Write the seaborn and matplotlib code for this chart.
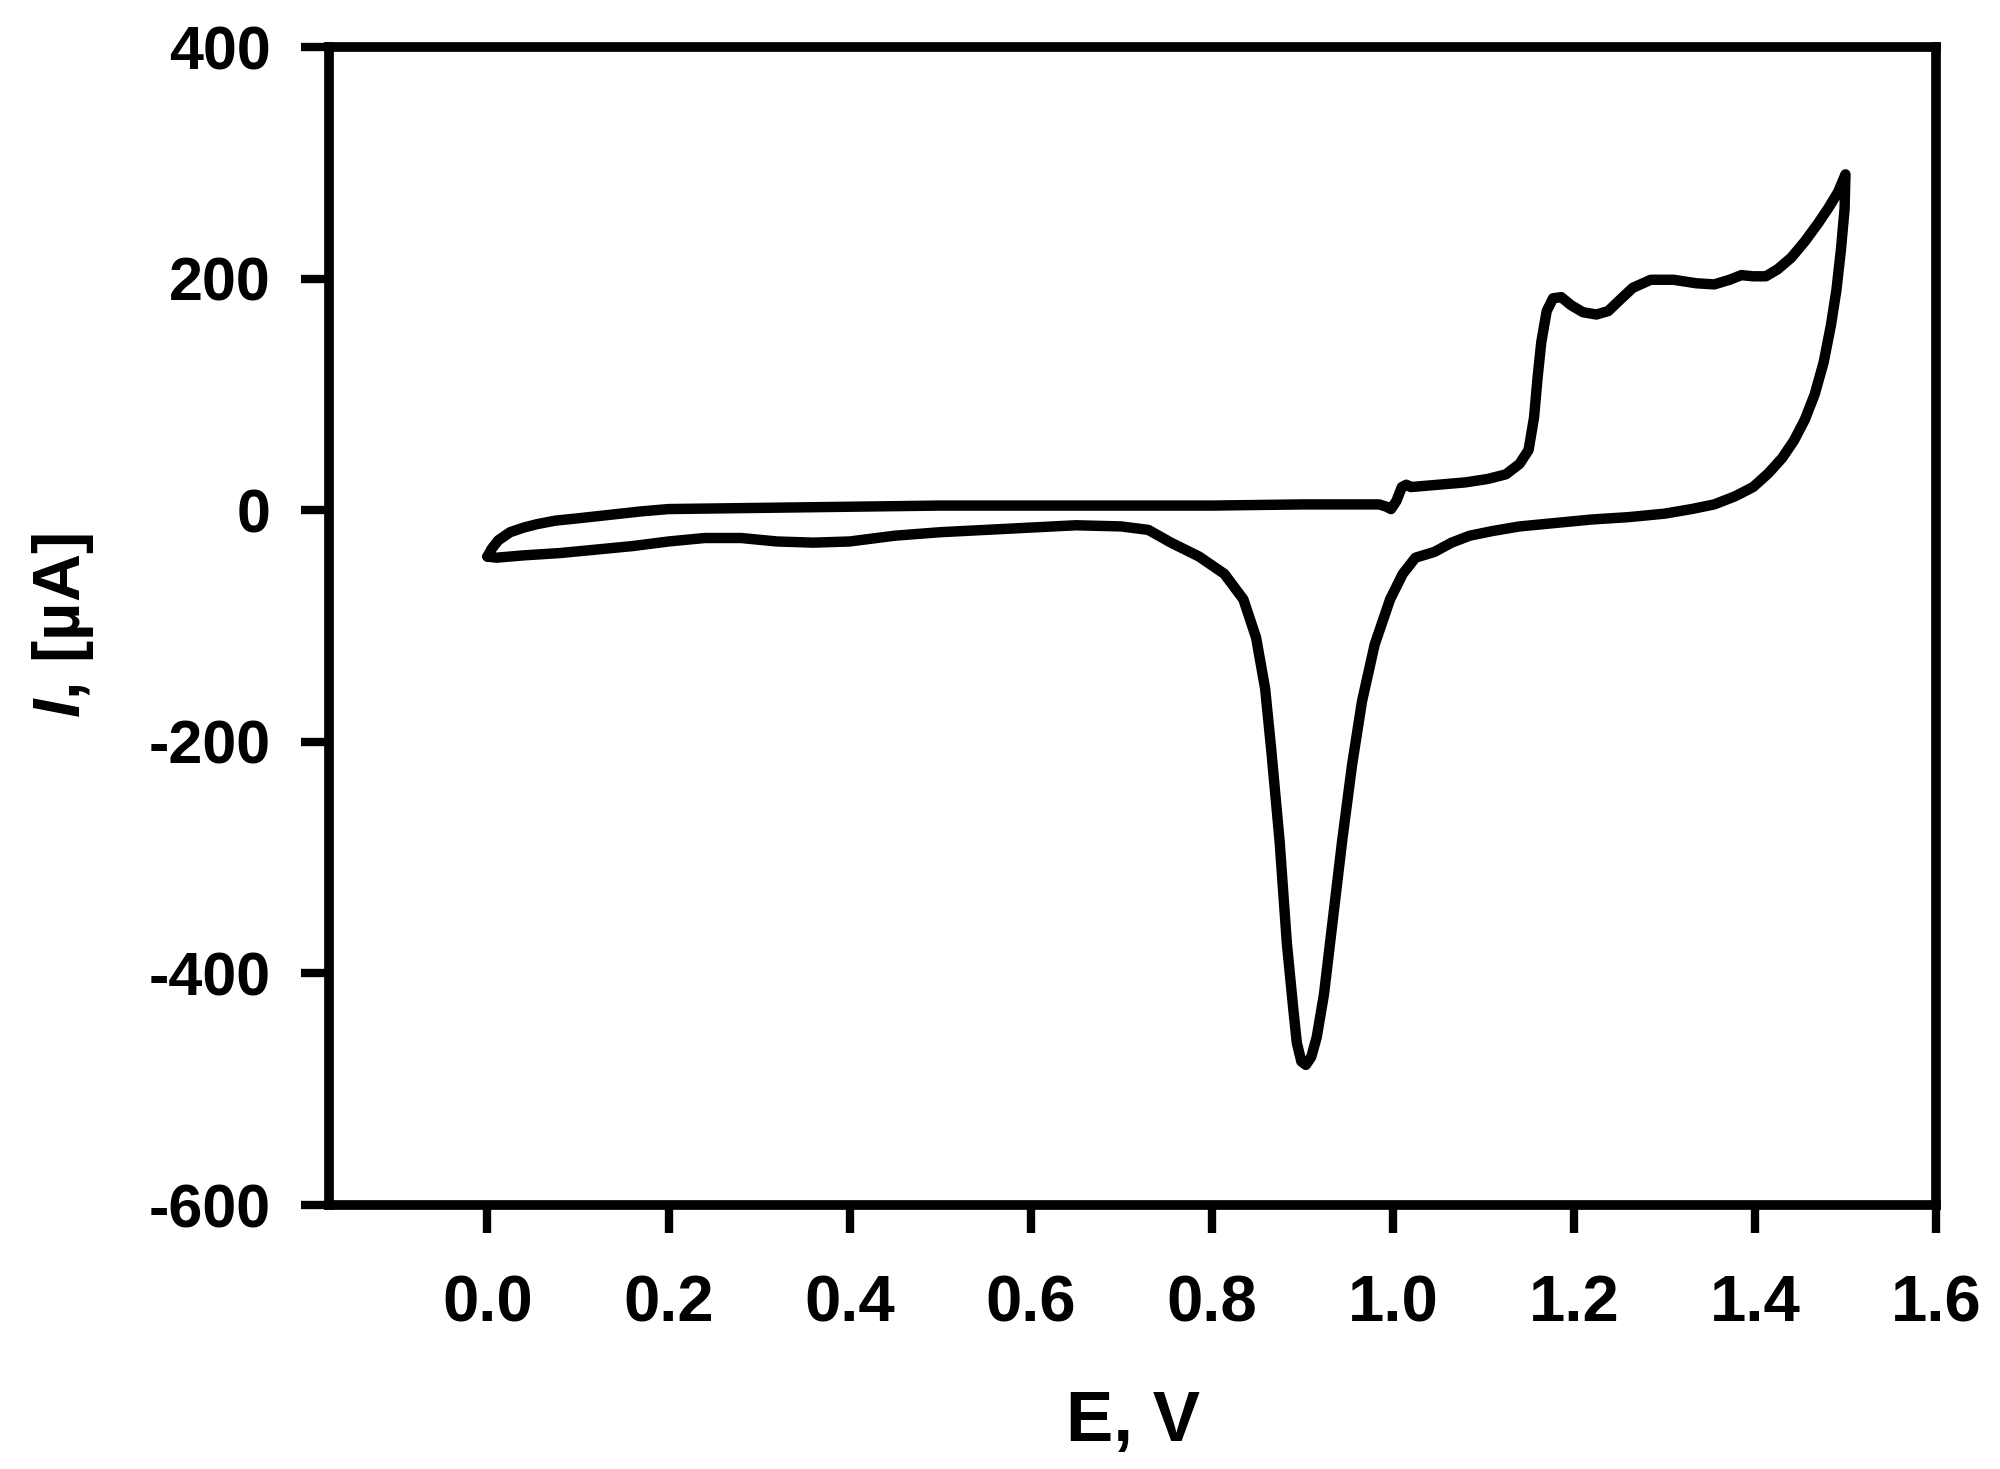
import matplotlib
matplotlib.use("Agg")
import matplotlib.pyplot as plt
import numpy as np
import pandas as pd
import seaborn as sns

# anodic sweep 0 -> 1.5 V
e_forward = [0.000, 0.005, 0.012, 0.025, 0.040, 0.055, 0.075, 0.100, 0.135, 0.170,
             0.200, 0.300, 0.400, 0.500, 0.600, 0.700, 0.800, 0.900, 0.985, 0.993,
             0.998, 1.004, 1.010, 1.015, 1.020, 1.050, 1.080, 1.105, 1.125, 1.140,
             1.150, 1.156, 1.160, 1.164, 1.170, 1.177, 1.186, 1.197, 1.210, 1.225,
             1.238, 1.250, 1.265, 1.285, 1.310, 1.335, 1.355, 1.372, 1.385, 1.398,
             1.412, 1.425, 1.440, 1.455, 1.470, 1.482, 1.492, 1.500]
i_forward = [-40, -33, -26, -19, -15, -12, -9, -7, -4, -1,
             1, 2, 3, 4, 4, 4, 4, 5, 5, 3,
             1, 8, 20, 22, 20, 22, 24, 27, 31, 40,
             52, 80, 115, 145, 172, 183, 184, 177, 171, 169,
             172, 181, 192, 199, 199, 196, 195, 199, 203, 202,
             202, 208, 218, 232, 248, 262, 275, 290]

# cathodic sweep 1.5 -> 0 V
e_reverse = [1.499, 1.495, 1.490, 1.484, 1.476, 1.466, 1.455, 1.443, 1.430, 1.415,
             1.398, 1.378, 1.355, 1.330, 1.300, 1.260, 1.220, 1.180, 1.140, 1.110,
             1.085, 1.065, 1.046, 1.025, 1.011, 0.997, 0.980, 0.966, 0.955, 0.944,
             0.934, 0.924, 0.916, 0.910, 0.904, 0.899, 0.894, 0.890, 0.883, 0.875,
             0.866, 0.859, 0.849, 0.835, 0.814, 0.786, 0.755, 0.730, 0.700, 0.650,
             0.600, 0.550, 0.500, 0.450, 0.400, 0.360, 0.320, 0.280, 0.240, 0.200,
             0.160, 0.120, 0.080, 0.040, 0.010, 0.000]
i_reverse = [260, 225, 190, 160, 128, 100, 78, 60, 45, 32,
             20, 12, 5, 1, -3, -6, -8, -11, -14, -18,
             -22, -28, -36, -41, -55, -77, -116, -165, -220, -286,
             -352, -418, -455, -472, -479, -476, -460, -430, -374, -286,
             -209, -154, -110, -77, -55, -40, -28, -17, -14, -13,
             -15, -17, -19, -22, -27, -28, -27, -24, -24, -27,
             -31, -34, -37, -39, -41, -40]

x_ticks = [0.0, 0.2, 0.4, 0.6, 0.8, 1.0, 1.2, 1.4, 1.6]
y_ticks = [-600, -400, -200, 0, 200, 400]

cv = pd.DataFrame({"E": e_forward + e_reverse, "I": i_forward + i_reverse})

sns.set_style("ticks")
plt.rcParams['font.family'] = ['Liberation Sans', 'DejaVu Sans']
plt.rcParams['font.weight'] = 'bold'
plt.rcParams['text.color'] = 'black'
plt.rcParams['axes.labelcolor'] = 'black'
plt.rcParams['xtick.color'] = 'black'
plt.rcParams['ytick.color'] = 'black'
plt.rcParams['mathtext.fontset'] = 'custom'
plt.rcParams['mathtext.it'] = 'Liberation Sans:italic:bold'
plt.rcParams['mathtext.rm'] = 'Liberation Sans:bold'

fig = plt.figure(figsize=(20, 14.69), dpi=100)
ax = fig.add_axes([0.1645, 0.1797, 0.8035, 0.7883])

sns.lineplot(data=cv, x="E", y="I", sort=False, estimator=None,
             color="black", linewidth=7.5, ax=ax,
             solid_joinstyle="round", solid_capstyle="round")

ax.set_xlim(-0.175, 1.6)
ax.set_ylim(-600, 400)
ax.set_xticks(x_ticks)
ax.set_xticklabels([f"{v:.1f}" for v in x_ticks], fontsize=47, fontweight="bold")
ax.set_yticks(y_ticks)
ax.set_yticklabels([str(v) for v in y_ticks], fontsize=44, fontweight="bold")

for side in ["top", "bottom", "left", "right"]:
    ax.spines[side].set_linewidth(7)
    ax.spines[side].set_color("black")

ax.tick_params(axis="both", direction="out", length=20, width=6, color="black")
ax.tick_params(axis="y", pad=22)
ax.tick_params(axis="x", pad=30)

ax.set_xlabel("E, V", fontsize=51, fontweight="bold", va="top")
ax.set_ylabel("$I$, [µA]", fontsize=48, fontweight="bold")
ax.xaxis.set_label_coords(0.5, -0.16)
ax.yaxis.set_label_coords(-0.145, 0.5)

fig.savefig("out.png", dpi=100, facecolor="white")
